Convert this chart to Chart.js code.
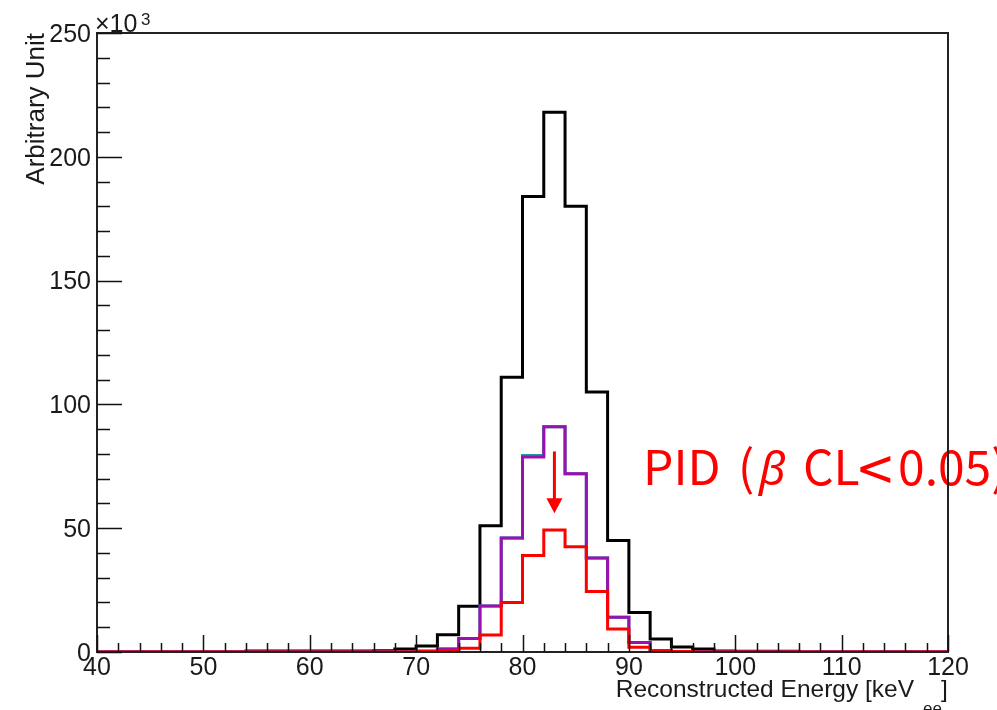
<!DOCTYPE html>
<html>
<head>
<meta charset="utf-8">
<script src="https://cdn.jsdelivr.net/npm/chart.js@4.4.0/dist/chart.umd.min.js"></script>
<style>
  html, body { margin: 0; padding: 0; background: #fff; }
</style>
</head>
<body>
<canvas id="energyChart" width="997" height="710"></canvas>
<script>
// Bin edges of the energy histograms (keV_ee), 2 keV wide
const binEdges = [40, 42, 44, 46, 48, 50, 52, 54, 56, 58, 60, 62, 64, 66, 68, 70, 72, 74, 76, 78,
                  80, 82, 84, 86, 88, 90, 92, 94, 96, 98, 100, 102, 104, 106, 108, 110, 112, 114, 116, 118, 120];

// Bin contents, in units of 10^3
const allEvents = [0, 0, 0, 0, 0, 0, 0, 0.4, 0.4, 0.4, 0.4, 0.4, 0.4, 0.5, 1.2, 2.4, 7, 18.5, 51, 111,
                   184, 218, 180, 105, 45, 16, 5.3, 2, 1.2, 0.4, 0.3, 0.3, 0.3, 0, 0, 0, 0, 0, 0, 0];
const preSelected = [0, 0, 0, 0, 0, 0, 0, 0, 0, 0, 0, 0, 0, 0, 0, 0.3, 1.2, 5.5, 18.6, 46,
                     79.4, 91, 72, 38, 14, 3.8, 0.5, 0, 0, 0, 0, 0, 0, 0, 0, 0, 0, 0, 0, 0];
const afterCut = [0, 0, 0, 0, 0, 0, 0, 0, 0, 0, 0, 0, 0, 0, 0, 0.3, 1.2, 5.5, 18.6, 46,
                  78.8, 91, 72, 38, 14, 3.8, 0.5, 0, 0, 0, 0, 0, 0, 0, 0, 0, 0, 0, 0, 0];
const pidPassed = [0, 0, 0, 0, 0, 0, 0, 0, 0, 0, 0, 0, 0, 0, 0, 0.3, 0.5, 1.5, 6.9, 20,
                   39, 49.3, 42.5, 24.4, 9.3, 1.9, 0.5, 0.2, 0, 0, 0, 0, 0, 0, 0, 0, 0, 0, 0, 0];

// Axis ticks
const xTickLabels = ["40", "50", "60", "70", "80", "90", "100", "110", "120"];
const yTickLabels = ["0", "50", "100", "150", "200", "250"];

// Arrow from the cut histogram down to the PID one
const arrowX = 83;
const arrowFrom = 81;
const arrowTo = 56;

const axisFont = '"Liberation Sans", Arial, sans-serif';
const jpFont = '"Noto Sans CJK JP", sans-serif';

// histogram -> step points, last bin closed at the upper edge
function toSteps(values) {
  const pts = values.map((v, i) => ({ x: binEdges[i], y: v }));
  pts.push({ x: binEdges[binEdges.length - 1], y: values[values.length - 1] });
  return pts;
}

function histo(values, color, order) {
  return {
    data: toSteps(values),
    stepped: "before",
    borderColor: color,
    borderWidth: 3,
    pointRadius: 0,
    fill: false,
    borderJoinStyle: "miter",
    order: order,
  };
}

// --------------------
// Frame, ticks, labels and annotation
// --------------------
const rootStyle = {
  id: "rootStyle",
  afterDraw(chart) {
    const ctx = chart.ctx;
    const xs = chart.scales.x;
    const ys = chart.scales.y;
    const area = chart.chartArea;

    // arrow + PID label
    ctx.save();
    const ax = xs.getPixelForValue(arrowX);
    const a0 = ys.getPixelForValue(arrowFrom);
    const a1 = ys.getPixelForValue(arrowTo);
    ctx.strokeStyle = "#ff0000";
    ctx.fillStyle = "#ff0000";
    ctx.lineWidth = 3;
    ctx.beginPath();
    ctx.moveTo(ax, a0);
    ctx.lineTo(ax, a1 - 12);
    ctx.stroke();
    ctx.beginPath();
    ctx.moveTo(ax - 8, a1 - 15);
    ctx.lineTo(ax + 8, a1 - 15);
    ctx.lineTo(ax, a1);
    ctx.closePath();
    ctx.fill();

    ctx.textBaseline = "alphabetic";
    ctx.textAlign = "left";
    const base = 485;
    ctx.font = "48px " + jpFont;
    ctx.fillText("PID", 643, base);
    ctx.fillText("(", 738, base);
    ctx.font = 'italic 46px "Noto Sans", "DejaVu Sans", sans-serif';
    ctx.fillText("β", 759, base);
    ctx.font = "48px " + jpFont;
    ctx.fillText("CL", 803, base);
    ctx.save();
    ctx.translate(858, base + 7);
    ctx.scale(1.3, 1.25);
    ctx.fillText("<", 0, 0);
    ctx.restore();
    ctx.fillText("0.05)", 898, base);
    ctx.restore();

    ctx.save();
    // frame
    ctx.strokeStyle = "#222";
    ctx.lineWidth = 2;
    ctx.strokeRect(area.left, area.top, area.right - area.left, area.bottom - area.top);

    // x ticks, pointing inward
    ctx.strokeStyle = "#111";
    ctx.lineWidth = 1.5;
    ctx.beginPath();
    for (let v = 40; v <= 120; v += 2) {
      const px = Math.round(xs.getPixelForValue(v)) + 0.5;
      const len = v % 10 === 0 ? 17 : 9;
      ctx.moveTo(px, area.bottom);
      ctx.lineTo(px, area.bottom - len);
    }
    // y ticks
    for (let v = 0; v <= 250; v += 10) {
      const py = Math.round(ys.getPixelForValue(v)) + 0.5;
      const len = v % 50 === 0 ? 25 : 13;
      ctx.moveTo(area.left, py);
      ctx.lineTo(area.left + len, py);
    }
    ctx.stroke();

    // tick labels
    ctx.fillStyle = "#1a1a1a";
    ctx.font = "25px " + axisFont;
    ctx.textAlign = "center";
    ctx.textBaseline = "middle";
    xTickLabels.forEach((t) => {
      ctx.fillText(t, xs.getPixelForValue(Number(t)), area.bottom + 16);
    });
    ctx.textAlign = "right";
    yTickLabels.forEach((t) => {
      ctx.fillText(t, area.left - 6, ys.getPixelForValue(Number(t)) + 2);
    });

    // exponent
    ctx.textAlign = "left";
    ctx.textBaseline = "alphabetic";
    ctx.font = "25px " + axisFont;
    ctx.fillText("×10", area.left - 2, 32);
    ctx.font = "17px " + axisFont;
    ctx.fillText("3", area.left + 44, 25);

    // x title
    ctx.font = "24.5px " + axisFont;
    ctx.textAlign = "right";
    ctx.fillText("Reconstructed Energy [keV", 914, 697);
    ctx.textAlign = "left";
    ctx.fillText("]", 941, 697);
    ctx.font = "17px " + axisFont;
    ctx.fillText("ee", 923, 714);

    // y title
    ctx.save();
    ctx.translate(44, area.top);
    ctx.rotate(-Math.PI / 2);
    ctx.font = "26px " + axisFont;
    ctx.textAlign = "right";
    ctx.fillText("Arbitrary Unit", 0, 0);
    ctx.restore();

    ctx.restore();
  },
};

const ctx = document.getElementById("energyChart").getContext("2d");

new Chart(ctx, {
  type: "line",
  data: {
    datasets: [
      histo(pidPassed, "#ff0000", 0),
      histo(afterCut, "#9a10b0", 1),
      histo(preSelected, "#1e9c9c", 2),
      histo(allEvents, "#000000", 3),
    ],
  },
  options: {
    responsive: false,
    animation: false,
    layout: { padding: { left: 97, top: 33, right: 49, bottom: 58 } },
    plugins: {
      legend: { display: false },
      tooltip: { enabled: false },
    },
    scales: {
      x: { type: "linear", min: 40, max: 120, display: false },
      y: { type: "linear", min: 0, max: 250, display: false },
    },
  },
  plugins: [rootStyle],
});
</script>
</body>
</html>
